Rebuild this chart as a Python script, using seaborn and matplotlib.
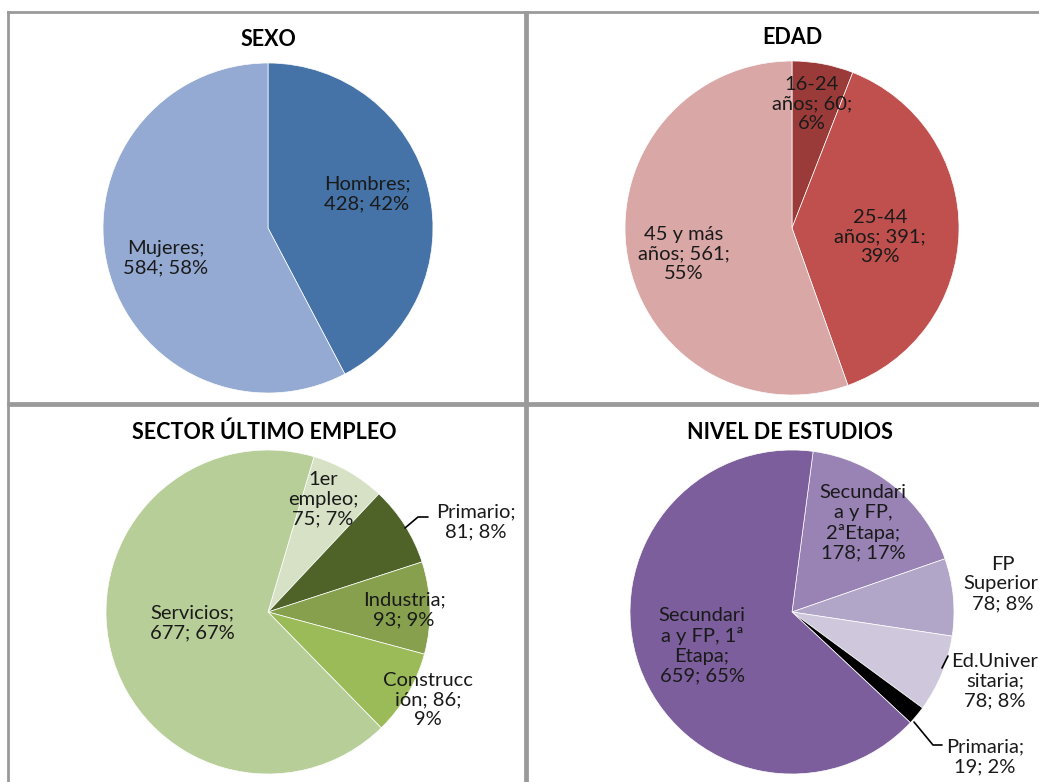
import matplotlib
matplotlib.use("Agg")
import matplotlib.pyplot as plt
import seaborn as sns

W, H = 1039, 782

# data (clockwise from the start angle, as drawn in the reference)
SEXO_LABELS = ["Hombres", "Mujeres"]
SEXO_VALUES = [428, 584]

EDAD_LABELS = ["16-24 años", "25-44 años", "45 y más años"]
EDAD_VALUES = [60, 391, 561]

SECTOR_LABELS = ["1er empleo", "Primario", "Industria", "Construcción", "Servicios"]
SECTOR_VALUES = [75, 81, 93, 86, 677]

ESTUDIOS_LABELS = ["Secundaria y FP, 2ªEtapa", "FP Superior", "Ed.Universitaria",
                   "Primaria", "Secundaria y FP, 1ª Etapa"]
ESTUDIOS_VALUES = [178, 78, 78, 19, 659]

sns.set_style("white")
plt.rcParams["font.family"] = ["Lato", "DejaVu Sans"]


def make_panel(fig, x0, y0, x1, y1):
    # panel in pixel coords (y down), axes data in pixels (y up)
    ax = fig.add_axes([x0 / W, 1 - y1 / H, (x1 - x0) / W, (y1 - y0) / H])
    ax.set_xticks([])
    ax.set_yticks([])
    for s in ax.spines.values():
        s.set_color("#9a9a9a")
        s.set_linewidth(2)
    ax.patch.set_alpha(0)
    return ax


def draw_pie(ax, values, colors, cx, cy, r, start, box):
    x0, y0, x1, y1 = box
    ax.pie(values, colors=colors, center=(cx, H - cy), radius=r,
           startangle=90 - start, counterclock=False,
           wedgeprops=dict(linewidth=0.5, edgecolor="white"), frame=True)
    ax.set_xlim(x0, x1)
    ax.set_ylim(H - y1, H - y0)
    ax.set_aspect("auto")
    ax.set_xticks([])
    ax.set_yticks([])


def put(ax, px, py, txt, **kw):
    ax.text(px, H - py, txt, ha="center", va="center", fontsize=14.5,
            color="#1a1a1a", linespacing=1.2, clip_on=False, **kw)


def title(ax, px, py, txt):
    ax.text(px, H - py, txt, ha="center", va="center", fontsize=15.5,
            fontweight="bold", color="black")


fig = plt.figure(figsize=(W / 100, H / 100), dpi=100)

panels = {
    "tl": (8, 12, 525, 403),
    "tr": (527, 12, 1060, 403),
    "bl": (8, 405, 525, 800),
    "br": (527, 405, 1060, 800),
}
axes = {k: make_panel(fig, *v) for k, v in panels.items()}

# SEXO
ax = axes["tl"]
draw_pie(ax, SEXO_VALUES, ["#4573A7", "#94AAD3"], 268, 228, 165, 0, panels["tl"])
title(ax, 268, 40, "SEXO")
put(ax, 367, 194, "Hombres;\n428; 42%")
put(ax, 166, 258, "Mujeres;\n584; 58%")

# EDAD
ax = axes["tr"]
draw_pie(ax, EDAD_VALUES, ["#9B3B39", "#C0504D", "#D9A7A6"], 792, 228, 167, 0, panels["tr"])
title(ax, 792, 37, "EDAD")
put(ax, 812, 104, "16-24\naños; 60;\n6%")
put(ax, 880, 237, "25-44\naños; 391;\n39%")
put(ax, 684, 254, "45 y más\naños; 561;\n55%")

# SECTOR ULTIMO EMPLEO
ax = axes["bl"]
draw_pie(ax, SECTOR_VALUES, ["#D6E1C5", "#4F6228", "#86A04D", "#9BBB59", "#B8CE98"],
         268, 612, 162, 16.5, panels["bl"])
title(ax, 264, 432, "SECTOR ÚLTIMO EMPLEO")
put(ax, 323, 499, "1er\nempleo;\n75; 7%")
put(ax, 476, 522, "Primario;\n81; 8%")
ax.plot([405, 418, 428], [H - 528, H - 517, H - 517], color="black", lw=1.2)
put(ax, 404, 610, "Industria;\n93; 9%")
put(ax, 428, 700, "Construcc\nión; 86;\n9%")
put(ax, 192, 623, "Servicios;\n677; 67%")

# NIVEL DE ESTUDIOS
ax = axes["br"]
draw_pie(ax, ESTUDIOS_VALUES, ["#9983B5", "#B2A6C8", "#CFC8DC", "#000000", "#7B5E9B"],
         792, 612, 162, 7.5, panels["br"])
title(ax, 790, 432, "NIVEL DE ESTUDIOS")
put(ax, 863, 523, "Secundari\na y FP,\n2ªEtapa;\n178; 17%")
put(ax, 1003, 584, "FP\nSuperior;\n78; 8%")
put(ax, 995, 681, "Ed.Univer\nsitaria;\n78; 8%")
ax.plot([942, 948], [H - 668, H - 656], color="black", lw=1.2)
put(ax, 985, 757, "Primaria;\n19; 2%")
ax.plot([914, 933, 942], [H - 722, H - 745, H - 745], color="black", lw=1.2)
put(ax, 702, 646, "Secundari\na y FP, 1ª\nEtapa;\n659; 65%")

fig.savefig("out.png", dpi=100)
